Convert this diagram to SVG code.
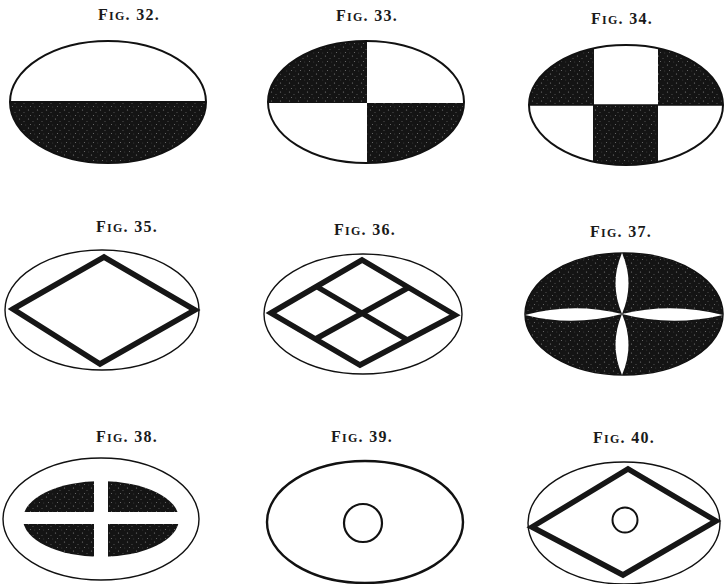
<svg xmlns="http://www.w3.org/2000/svg" width="724" height="584" viewBox="0 0 724 584">
<style>
.lbl{font-family:"Liberation Serif","DejaVu Serif",serif;font-size:16px;font-weight:bold;letter-spacing:1.3px;fill:#1a1a1a;text-anchor:middle}
.sc{font-size:12px}
.ol{fill:none;stroke:#111;stroke-width:2}
.thin{fill:none;stroke:#111;stroke-width:1.4}
.bar{fill:none;stroke:#161616;stroke-width:5.5;stroke-linejoin:miter;stroke-miterlimit:10}
.dk{fill:url(#stip)}
.wh{fill:#fff}
</style>
<defs>
<pattern id="stip" width="9" height="9" patternUnits="userSpaceOnUse">
<rect width="9" height="9" fill="#141414"/>
<circle cx="1.5" cy="2" r="0.6" fill="#fff" opacity="0.45"/>
<circle cx="6" cy="4.5" r="0.5" fill="#fff" opacity="0.35"/>
<circle cx="3.5" cy="7.5" r="0.55" fill="#fff" opacity="0.4"/>
<circle cx="7.8" cy="8" r="0.4" fill="#fff" opacity="0.3"/>
</pattern>
<clipPath id="c32"><ellipse cx="108" cy="102" rx="98" ry="61"/></clipPath>
<clipPath id="c33"><ellipse cx="366" cy="102" rx="98" ry="61"/></clipPath>
<clipPath id="c34"><ellipse cx="626" cy="105" rx="97" ry="60"/></clipPath>
</defs>
<rect width="724" height="584" fill="#fff"/>

<g id="fig32">
<text class="lbl" x="129" y="20">F<tspan class="sc">IG</tspan>. 32.</text>
<g clip-path="url(#c32)"><rect class="dk" x="0" y="102" width="220" height="70"/></g>
<line x1="10" y1="102" x2="206" y2="102" stroke="#111" stroke-width="2"/>
<ellipse class="ol" cx="108" cy="102" rx="98" ry="61"/>
</g>

<g id="fig33">
<text class="lbl" x="367" y="21">F<tspan class="sc">IG</tspan>. 33.</text>
<g clip-path="url(#c33)">
<rect class="dk" x="260" y="35" width="107" height="68"/>
<rect class="dk" x="367" y="103" width="110" height="70"/>
</g>
<ellipse class="ol" cx="366" cy="102" rx="98" ry="61"/>
</g>

<g id="fig34">
<text class="lbl" x="622" y="24">F<tspan class="sc">IG</tspan>. 34.</text>
<g clip-path="url(#c34)">
<rect class="dk" x="520" y="40" width="74" height="65"/>
<rect class="dk" x="658" y="40" width="74" height="65"/>
<rect class="dk" x="593" y="105" width="65" height="70"/>
</g>
<line x1="529" y1="105" x2="723" y2="105" stroke="#111" stroke-width="1.5"/>
<ellipse class="ol" cx="626" cy="105" rx="97" ry="60"/>
</g>

<g id="fig35">
<text class="lbl" x="127" y="232">F<tspan class="sc">IG</tspan>. 35.</text>
<ellipse class="thin" cx="102" cy="310" rx="97" ry="60"/>
<polygon class="bar" points="13,309 104,257 195,310 100,364"/>
</g>

<g id="fig36">
<text class="lbl" x="365" y="235">F<tspan class="sc">IG</tspan>. 36.</text>
<ellipse class="thin" cx="363" cy="314" rx="99" ry="60"/>
<polygon class="bar" points="271,313 362,260 455,315 360,365"/>
<line class="bar" x1="316.5" y1="286.5" x2="407.5" y2="340"/>
<line class="bar" x1="408.5" y1="287.5" x2="315.5" y2="339"/>
</g>

<g id="fig37">
<text class="lbl" x="621" y="237">F<tspan class="sc">IG</tspan>. 37.</text>
<ellipse class="dk" cx="624" cy="314" rx="99" ry="61" stroke="#111" stroke-width="1.5"/>
<path class="wh" d="M622,253 Q635,283 622,314 Q609,283 622,253 Z"/>
<path class="wh" d="M622,375 Q635,345 622,314 Q609,345 622,375 Z"/>
<path class="wh" d="M525,315 Q573,302 622,314 Q573,327 525,315 Z"/>
<path class="wh" d="M723,315 Q672,302 622,314 Q672,327 723,315 Z"/>
</g>

<g id="fig38">
<text class="lbl" x="127" y="442">F<tspan class="sc">IG</tspan>. 38.</text>
<ellipse class="thin" cx="101" cy="519" rx="98" ry="61"/>
<ellipse class="dk" cx="101" cy="519" rx="78" ry="38"/>
<line x1="101" y1="478" x2="101" y2="560" stroke="#fff" stroke-width="14"/>
<line x1="20" y1="518" x2="182" y2="518" stroke="#fff" stroke-width="12"/>
</g>

<g id="fig39">
<text class="lbl" x="362" y="442">F<tspan class="sc">IG</tspan>. 39.</text>
<ellipse cx="365" cy="522" rx="98" ry="61" fill="none" stroke="#111" stroke-width="2.4"/>
<circle cx="363" cy="523" r="19" fill="none" stroke="#111" stroke-width="2.2"/>
</g>

<g id="fig40">
<text class="lbl" x="624" y="443">F<tspan class="sc">IG</tspan>. 40.</text>
<ellipse class="thin" cx="624" cy="523" rx="96" ry="61"/>
<polygon class="bar" points="532,527 628,469 716,521 623,575"/>
<circle cx="625" cy="520" r="12.5" fill="none" stroke="#111" stroke-width="2"/>
</g>
</svg>
